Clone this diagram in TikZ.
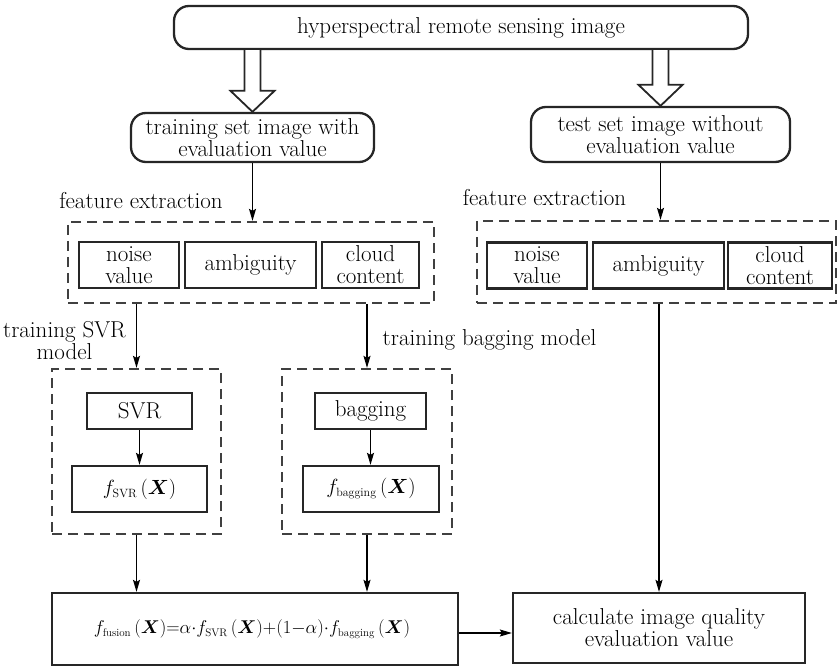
\RequirePackage{fix-cm}
\documentclass[tikz,border=0pt]{standalone}
\usepackage{bm}
\usetikzlibrary{arrows.meta,calc}
\newcommand{\sbs}[1]{\mbox{\fontsize{12}{12}\selectfont #1}}
\newcommand{\sbf}[1]{\mbox{\fontsize{11}{11}\selectfont #1}}
\begin{document}
\begin{tikzpicture}[x=1pt,y=-1pt,
  every node/.style={font=\fontsize{23}{22}\selectfont, inner sep=0pt},
  mathf/.style={font=\fontsize{20.5}{22}\selectfont},
  rbox/.style={draw=black!85, line width=2.3pt, rounded corners=15pt, align=center},
  sbox/.style={draw=black!85, line width=2.3pt, align=center},
  dbox/.style={draw=black!75, line width=2.3pt, dash pattern=on 10pt off 6pt},
  lbl/.style={align=center},
  conn/.style={line width=1.2pt, -{Stealth[length=12pt,width=7pt,inset=2pt]}},
  hollow/.style={draw=black!85, line width=1.8pt, fill=white, line join=miter}
]
\useasboundingbox (0,0) rectangle (838,668);

% top
\node[rbox, minimum width=574pt, minimum height=43pt] (top) at (461,27.5) {hyperspectral remote sensing image};
\node[rbox, minimum width=243pt, minimum height=49pt] (train) at (252.5,137.5) {training set image with\\evaluation value};
\node[rbox, minimum width=259pt, minimum height=55pt] (test) at (660.5,134.5) {test set image without\\evaluation value};

% hollow arrows
\coordinate (la) at (train.north);
\coordinate (lb) at (train.north |- top.south);
\draw[hollow] ($(lb)+(-8,0)$) -- ($(la)+(-8,-21)$) -- ($(la)+(-22,-21)$) -- (la) -- ($(la)+(22,-21)$) -- ($(la)+(8,-21)$) -- ($(lb)+(8,0)$);
\coordinate (ra) at (test.north);
\coordinate (rb) at (test.north |- top.south);
\draw[hollow] ($(rb)+(-8,0)$) -- ($(ra)+(-8,-21)$) -- ($(ra)+(-22,-21)$) -- (ra) -- ($(ra)+(22,-21)$) -- ($(ra)+(8,-21)$) -- ($(rb)+(8,0)$);

% feature extraction labels
\node[lbl] (fe1) at (141,201) {feature extraction};
\node[lbl] (fe2) at (544.5,198) {feature extraction};

% left feature group
\node[dbox, minimum width=366pt, minimum height=81pt] (dash1) at (251,262.5) {};
\node[sbox, minimum width=100pt, minimum height=46pt] (n1) at (129,265) {noise\\value};
\node[sbox, minimum width=131pt, minimum height=46pt] (a1) at (250.5,265) {ambiguity};
\node[sbox, minimum width=97pt, minimum height=46pt] (c1) at (370.5,265) {cloud\\content};

% right feature group
\node[dbox, minimum width=359pt, minimum height=82pt] (dash2) at (656.5,262) {};
\node[sbox, minimum width=100pt, minimum height=46pt] (n2) at (537,265.5) {noise\\value};
\node[sbox, minimum width=131pt, minimum height=46pt] (a2) at (658.5,265.5) {ambiguity};
\node[sbox, minimum width=104pt, minimum height=46pt] (c2) at (780,265.5) {cloud\\content};

% training labels
\node[lbl] (svrlbl) at (64.5,341) {training SVR\\model};
\node[lbl] (baglbl) at (489.5,340) {training bagging model};

% model groups
\node[dbox, minimum width=169pt, minimum height=165pt] (dsvr) at (136.5,451.5) {};
\node[dbox, minimum width=170pt, minimum height=165pt] (dbag) at (367,451.5) {};
\node[sbox, minimum width=105pt, minimum height=36pt] (svr) at (139.5,411) {SVR};
\node[sbox, minimum width=111pt, minimum height=36pt] (bag) at (370.5,411) {bagging};
\node[sbox, mathf, minimum width=135pt, minimum height=46pt] (fsvr) at (139.5,489) {$f_{\sbs{SVR}}\,(\bm{X})$};
\node[sbox, mathf, minimum width=136pt, minimum height=46pt] (fbag) at (371,489) {$f_{\sbs{bagging}}\,(\bm{X})$};

% bottom
\node[sbox, font=\fontsize{18.5}{22}\selectfont, minimum width=406pt, minimum height=72pt] (fusion) at (255,629)
  {\hspace*{-6pt}$f_{\sbf{fusion}}\,(\bm{X}){=}\alpha{\cdot}f_{\sbf{SVR}}\,(\bm{X}){+}(1{-}\alpha){\cdot}f_{\sbf{bagging}}\,(\bm{X})$};
\node[sbox, minimum width=292pt, minimum height=70pt] (calc) at (659,628) {calculate image quality\\evaluation value};

% connectors
\draw[conn] (train.south) -- (train.south |- dash1.north);
\draw[conn] (test.south) -- (test.south |- dash2.north);
\draw[conn] (dsvr.north |- dash1.south) -- (dsvr.north);
\draw[conn] (dbag.north |- dash1.south) -- (dbag.north);
\draw[conn] (svr.south) -- (svr.south |- fsvr.north);
\draw[conn] (bag.south) -- (bag.south |- fbag.north);
\draw[conn] (dsvr.south) -- (dsvr.south |- fusion.north);
\draw[conn] (dbag.south) -- (dbag.south |- fusion.north);
\draw[conn] (calc.north |- dash2.south) -- (calc.north);
\coordinate (fe) at ($(fusion.east)+(0,4)$);
\draw[conn] (fe) -- (fe -| calc.west);
\end{tikzpicture}
\end{document}
